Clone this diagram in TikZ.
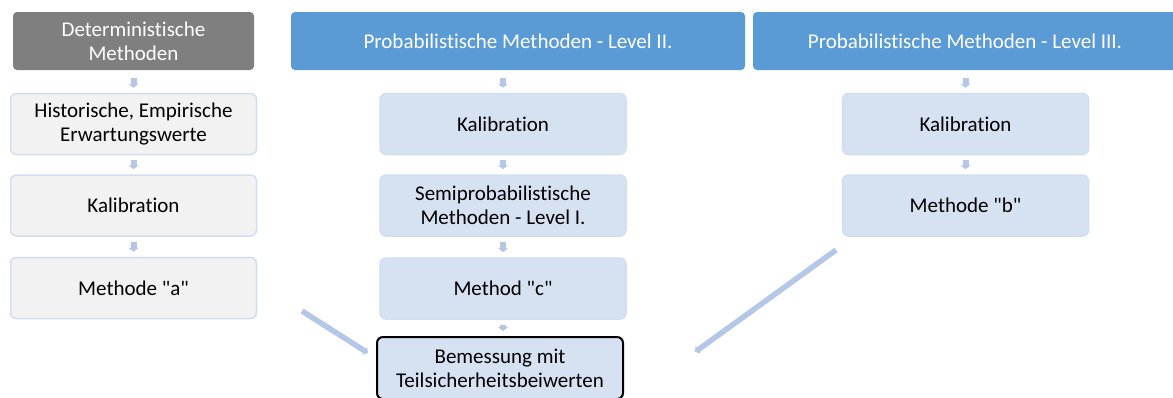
\documentclass[tikz,border=0pt]{standalone}
\usepackage{fontspec}
\setmainfont{Carlito}[Ligatures={TeXOff,NoCommon}]
\usetikzlibrary{arrows.meta}
\definecolor{hdgray}{HTML}{7F7F7F}
\definecolor{hdblue}{HTML}{5B9BD5}
\definecolor{bxblue}{HTML}{D6E1F2}
\definecolor{bxline}{HTML}{D2DEF0}
\definecolor{bxgray}{HTML}{F2F2F2}
\definecolor{arblue}{HTML}{B4C7E7}
\tikzstyle{hd}=[rounded corners=4pt,text=white,align=center,inner sep=1pt]
\tikzstyle{bx}=[rounded corners=6pt,draw=bxline,line width=1.5pt,fill=bxblue,text=black,align=center,minimum width=246pt,minimum height=61pt,inner sep=1pt]
\tikzstyle{gbx}=[bx,fill=bxgray]
\tikzstyle{sa}=[arblue,line width=6pt,-{Triangle[width=10pt,length=4pt]}]
\tikzstyle{da}=[arblue,line width=5.5pt,-{Triangle[width=9pt,length=4pt]}]

\begin{document}
\begin{tikzpicture}[x=1pt,y=-1pt,font=\fontsize{21}{24}\selectfont]
\useasboundingbox (0,0) rectangle (1173,397);
\clip (0,0) rectangle (1173,397);
% headers
\node[hd,fill=hdgray,minimum width=241pt,minimum height=58pt] (det) at (133.5,41) {Deterministische\\Methoden};
\node[hd,fill=hdblue,minimum width=454pt,minimum height=58pt] (prob2) at (518,41) {Probabilistische Methoden - Level II.};
\node[hd,fill=hdblue,minimum width=424pt,minimum height=58pt] (prob3) at (965,41) {Probabilistische Methoden - Level III.};
% left column
\node[gbx] (hist) at (133.5,124) {Historische, Empirische\\Erwartungswerte};
\node[gbx] (kal1) at (133.5,205.5) {Kalibration};
\node[gbx] (meta) at (133.5,288) {Methode \textquotedbl a\textquotedbl};
% middle column
\node[bx] (kal2) at (503,124) {Kalibration};
\node[bx] (semi) at (503,205.5) {Semiprobabilistische\\Methoden - Level I.};
\node[bx] (metc) at (503,288.5) {Method \textquotedbl c\textquotedbl};
\node[rounded corners=6pt,draw=black,line width=2pt,fill=bxblue,align=center,minimum width=246pt,minimum height=62pt,inner sep=1pt] (bem) at (500,368) {Bemessung mit\\Teilsicherheitsbeiwerten};
% right column
\node[bx] (kal3) at (965.5,124) {Kalibration};
\node[bx] (metb) at (965.5,205.5) {Methode \textquotedbl b\textquotedbl};
% small arrows
\draw[sa,shorten <=8pt,shorten >=5pt] (133.5,70) -- (hist);
\draw[sa,shorten <=5pt,shorten >=5pt] (hist) -- (kal1);
\draw[sa,shorten <=5pt,shorten >=5pt] (kal1) -- (meta);
\draw[sa,shorten <=8pt,shorten >=5pt] (503,70) -- (kal2);
\draw[sa,shorten <=5pt,shorten >=5pt] (kal2) -- (semi);
\draw[sa,shorten <=5pt,shorten >=5pt] (semi) -- (metc);
\draw[sa,shorten <=5pt,shorten >=5pt] (metc.south) -- (metc.south |- bem.north);
\draw[sa,shorten <=8pt,shorten >=5pt] (965.5,70) -- (kal3);
\draw[sa,shorten <=5pt,shorten >=5pt] (kal3) -- (metb);
% diagonal arrows
\coordinate (la) at (302,311);
\coordinate (ra) at (836,250);
\draw[da] (la) -- (368,353);
\draw[da] (ra) -- (695,352);
\end{tikzpicture}
\end{document}
